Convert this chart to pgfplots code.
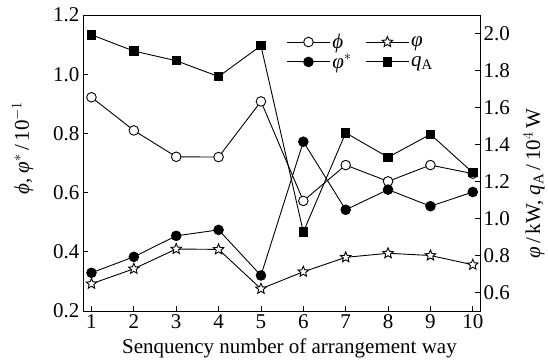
\documentclass[border=0pt]{standalone}
\usepackage{pgfplots}
\pgfplotsset{compat=1.18}
\usepackage{fontspec}
\setmainfont{Liberation Serif}
\newcommand{\Phs}{\textit{ϕ}}
\newcommand{\Vph}{\textit{φ}}
\pgfdeclareplotmark{ostar}{%
  \pgfpathmoveto{\pgfpointpolar{90}{\pgfplotmarksize}}%
  \pgfpathlineto{\pgfpointpolar{126}{0.45\pgfplotmarksize}}%
  \pgfpathlineto{\pgfpointpolar{162}{\pgfplotmarksize}}%
  \pgfpathlineto{\pgfpointpolar{198}{0.45\pgfplotmarksize}}%
  \pgfpathlineto{\pgfpointpolar{234}{\pgfplotmarksize}}%
  \pgfpathlineto{\pgfpointpolar{270}{0.45\pgfplotmarksize}}%
  \pgfpathlineto{\pgfpointpolar{306}{\pgfplotmarksize}}%
  \pgfpathlineto{\pgfpointpolar{342}{0.45\pgfplotmarksize}}%
  \pgfpathlineto{\pgfpointpolar{18}{\pgfplotmarksize}}%
  \pgfpathlineto{\pgfpointpolar{54}{0.45\pgfplotmarksize}}%
  \pgfpathclose
  \pgfusepathqfillstroke
}
\begin{document}
\begin{tikzpicture}
\pgfplotsset{
  common/.style={
    scale only axis, width=397pt, height=296pt,
    xmin=0.8, xmax=10.17,
    tick align=inside, major tick length=5pt,
    /pgf/number format/assume math mode=true,
    ticklabel style={font=\fontsize{21}{24}\selectfont},
    label style={font=\fontsize{21}{24}\selectfont},
    yticklabel style={/pgf/number format/.cd,fixed,fixed zerofill,precision=1},
    axis line style={line width=0.9pt},
    every tick/.style={black, line width=0.9pt},
    legend image code/.code={\draw[mark repeat=2,mark phase=2,#1] plot coordinates {(0cm,0cm) (0.75cm,0cm) (1.5cm,0cm)};},
  },
  sopen/.style={black, line width=0.9pt, mark=*, mark size=4.8pt, mark options={fill=white, solid}},
  sfill/.style={black, line width=0.9pt, mark=*, mark size=4.8pt, mark options={fill=black, solid}},
  sstar/.style={black, line width=0.9pt, mark=ostar, mark size=5.5pt, mark options={fill=white, solid}},
  ssq/.style={black, line width=0.9pt, mark=square*, mark size=4.2pt, mark options={fill=black, solid}},
}
\begin{axis}[common,
  ymin=0.2, ymax=1.2,
  xtick={1,2,3,4,5,6,7,8,9,10},
  ytick={0.2,0.4,0.6,0.8,1.0,1.2},
  xtick pos=bottom, ytick pos=left,
  xlabel={Senquency number of arrangement way},
  ylabel={\Phs, \Vph$^{*}$\,/\,10$^{-1}$},
  xlabel style={at={(axis description cs:0.52,-0.125)}, anchor=center},
  ylabel style={at={(axis description cs:-0.152,0.55)}, anchor=center},
]
\addplot[sopen] coordinates {(1,0.922) (2,0.81) (3,0.721) (4,0.72) (5,0.908) (6,0.572) (7,0.693) (8,0.638) (9,0.693) (10,0.664)};
\addplot[sfill] coordinates {(1,0.329) (2,0.383) (3,0.454) (4,0.474) (5,0.32) (6,0.772) (7,0.542) (8,0.61) (9,0.554) (10,0.602)};
\end{axis}
\begin{axis}[common,
  ymin=0.5, ymax=2.1,
  ytick={0.6,0.8,1.0,1.2,1.4,1.6,1.8,2.0},
  axis x line=none, axis y line*=right, ytick pos=right,
  ylabel={\Vph\,/\,kW, \textit{q}$_{\mathrm{A}}$\,/\,10$^{4}$\,W},
  ylabel style={at={(axis description cs:1.136,0.43)}, anchor=center, rotate=0},
  legend columns=2,
  legend cell align=left,
  legend style={draw=none, fill=none, at={(0.505,0.95)}, anchor=north west,
    font=\fontsize{21}{24}\selectfont,
    /tikz/every even column/.append style={column sep=12pt}},
]
\addlegendimage{sopen}
\addlegendentry{\Phs}
\addplot[sstar] coordinates {(1,0.647) (2,0.728) (3,0.835) (4,0.833) (5,0.62) (6,0.712) (7,0.79) (8,0.812) (9,0.80) (10,0.75)};
\addlegendentry{\Vph}
\addlegendimage{sfill}
\addlegendentry{\Vph$^{*}$}
\addplot[ssq] coordinates {(1,1.993) (2,1.905) (3,1.853) (4,1.767) (5,1.934) (6,0.927) (7,1.463) (8,1.331) (9,1.455) (10,1.248)};
\addlegendentry{\textit{q}$_{\mathrm{A}}$}
\end{axis}
\path[use as bounding box] (-83pt,-50pt) rectangle (465pt,311pt);
\end{tikzpicture}
\end{document}
